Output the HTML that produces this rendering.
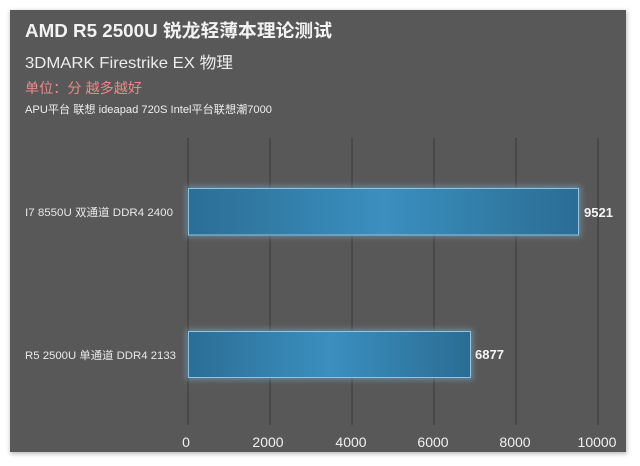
<!DOCTYPE html>
<html><head><meta charset="utf-8"><style>
html,body{margin:0;padding:0;background:#fff;width:640px;height:466px;overflow:hidden}
svg{display:block}
text{font-family:"Liberation Sans","Noto Sans CJK SC",sans-serif}
</style></head><body>
<svg width="640" height="466" viewBox="0 0 640 466" xmlns="http://www.w3.org/2000/svg">
<defs>
<linearGradient id="bg" x1="0" x2="1" y1="0" y2="0">
<stop offset="0" stop-color="#2b6e95"/>
<stop offset="0.5" stop-color="#3b8fbf"/>
<stop offset="1" stop-color="#2a6d94"/>
</linearGradient>
<filter id="glow" x="-10%" y="-40%" width="120%" height="180%">
<feGaussianBlur stdDeviation="3"/>
</filter>
<filter id="sh" x="-5%" y="-5%" width="110%" height="110%">
<feGaussianBlur stdDeviation="2"/>
</filter>
</defs>
<rect x="10" y="11" width="617" height="443" fill="#bbb" filter="url(#sh)"/>
<rect x="10" y="10" width="616" height="442" fill="#585858"/>
<!-- titles -->
<text x="25" y="37" font-size="18" font-weight="bold" fill="#f2f2f2" textLength="307" lengthAdjust="spacingAndGlyphs">AMD R5 2500U 锐龙轻薄本理论测试</text>
<text x="25" y="68" font-size="16" fill="#ececec" textLength="208" lengthAdjust="spacingAndGlyphs">3DMARK Firestrike EX 物理</text>
<text x="25" y="93" font-size="14" fill="#e88a8a" textLength="117" lengthAdjust="spacingAndGlyphs">单位：分 越多越好</text>
<text x="25" y="113" font-size="11" fill="#eeeeee" textLength="247" lengthAdjust="spacingAndGlyphs">APU平台 联想 ideapad 720S Intel平台联想潮7000</text>
<!-- grid -->
<g stroke="#3f3f3f" stroke-width="1.2">
<line x1="188" y1="138" x2="188" y2="425"/>
<line x1="270" y1="138" x2="270" y2="425"/>
<line x1="352" y1="138" x2="352" y2="425"/>
<line x1="434" y1="138" x2="434" y2="425"/>
<line x1="516" y1="138" x2="516" y2="425"/>
<line x1="598" y1="138" x2="598" y2="425"/>
</g>
<!-- bars -->
<rect x="186" y="186" width="395" height="51" fill="#7fb4d6" opacity="0.5" filter="url(#glow)"/>
<rect x="188.5" y="188.5" width="390" height="46.5" fill="url(#bg)" stroke="#8fc3e3" stroke-width="1"/>
<rect x="186" y="329" width="287" height="51" fill="#7fb4d6" opacity="0.5" filter="url(#glow)"/>
<rect x="188.5" y="331.5" width="282" height="46" fill="url(#bg)" stroke="#8fc3e3" stroke-width="1"/>
<!-- values -->
<text x="584" y="217" font-size="13" font-weight="bold" fill="#f4f4f4" textLength="29" lengthAdjust="spacingAndGlyphs">9521</text>
<text x="475" y="359" font-size="13" font-weight="bold" fill="#f4f4f4" textLength="29" lengthAdjust="spacingAndGlyphs">6877</text>
<!-- category labels -->
<text x="25" y="216" font-size="11" fill="#e8e8e8" textLength="148" lengthAdjust="spacingAndGlyphs">I7 8550U 双通道 DDR4 2400</text>
<text x="25" y="359" font-size="11" fill="#e8e8e8" textLength="151" lengthAdjust="spacingAndGlyphs">R5 2500U 单通道 DDR4 2133</text>
<!-- axis labels -->
<g font-size="14" fill="#f0f0f0" text-anchor="middle">
<text x="186" y="447">0</text>
<text x="268" y="447">2000</text>
<text x="351" y="447">4000</text>
<text x="433" y="447">6000</text>
<text x="515" y="447">8000</text>
<text x="597" y="447">10000</text>
</g>
</svg>
</body></html>
